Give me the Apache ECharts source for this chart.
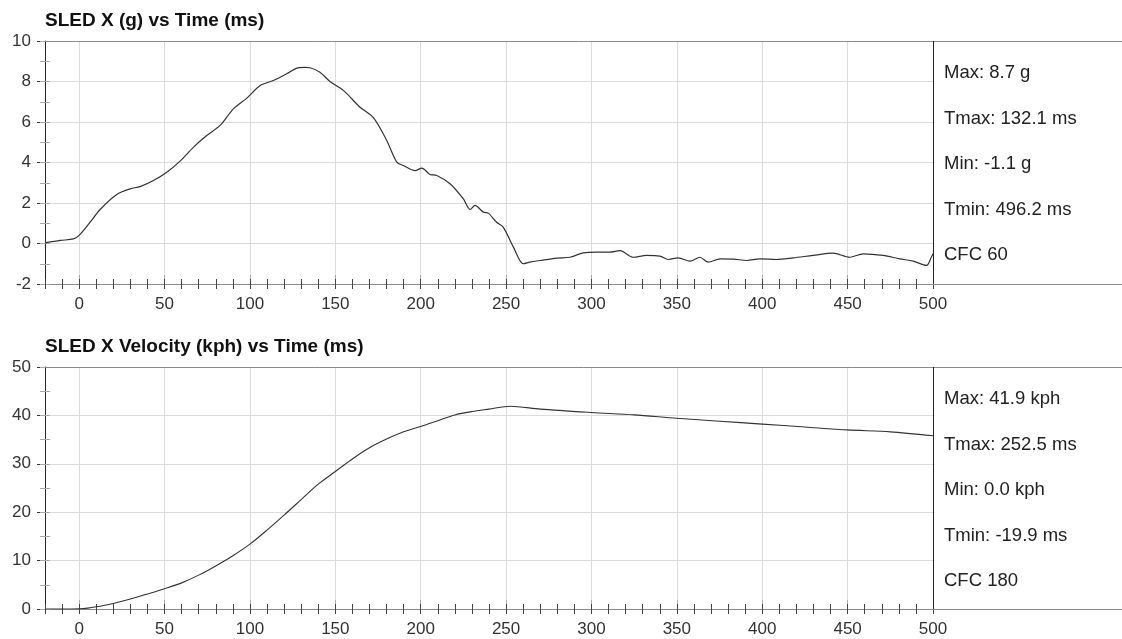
<!DOCTYPE html>
<html>
<head>
<meta charset="utf-8">
<script src="https://cdn.jsdelivr.net/npm/echarts@6/dist/echarts.min.js"></script>
<style>
html,body{margin:0;padding:0;background:#fff;}
#chart{width:1122px;height:639px;}
</style>
</head>
<body>
<div id="chart"></div>
<script>
// ---------- data ----------
const titleTop = 'SLED X (g) vs Time (ms)';
const titleBottom = 'SLED X Velocity (kph) vs Time (ms)';
const statsTop = ['Max: 8.7 g', 'Tmax: 132.1 ms', 'Min: -1.1 g', 'Tmin: 496.2 ms', 'CFC 60'];
const statsBottom = ['Max: 41.9 kph', 'Tmax: 252.5 ms', 'Min: 0.0 kph', 'Tmin: -19.9 ms', 'CFC 180'];
const timeTicks = [0, 50, 100, 150, 200, 250, 300, 350, 400, 450, 500];

// acceleration trace (time ms, g)
const accTime = [-20, -11, -3.3, 0, 6.4, 12.3, 22, 29.9, 35.7, 43.5, 51.3, 59.1, 67, 74.7, 82.5, 90.3, 98.2, 106, 113.7, 121.6, 127.4, 132.1, 135.2, 141, 146.9, 154.7, 164.5, 172.3, 180.1, 186, 189.9, 196.7, 200.6, 205.5, 209.4, 217.2, 225, 229, 231.8, 236.7, 239.6, 244.5, 248.4, 254.3, 260.1, 264, 269.9, 279.6, 287.4, 295.2, 303, 310.8, 316.7, 324.5, 332.3, 340.1, 345, 350.8, 357.7, 363.5, 368.4, 375.4, 383.2, 391, 398.6, 408.4, 418.1, 429.8, 441.6, 451.3, 459.1, 470.8, 480.6, 488.4, 496.2, 499, 500];
const accG = [0.03, 0.15, 0.23, 0.4, 1.05, 1.68, 2.42, 2.7, 2.81, 3.11, 3.52, 4.07, 4.76, 5.33, 5.83, 6.65, 7.18, 7.8, 8.05, 8.38, 8.66, 8.7, 8.68, 8.46, 8.0, 7.56, 6.73, 6.21, 5.09, 4.02, 3.85, 3.6, 3.72, 3.41, 3.36, 2.95, 2.2, 1.68, 1.88, 1.55, 1.5, 1.05, 0.8, -0.18, -1.0, -0.92, -0.84, -0.72, -0.68, -0.46, -0.43, -0.43, -0.35, -0.68, -0.59, -0.62, -0.79, -0.71, -0.87, -0.68, -0.92, -0.76, -0.77, -0.84, -0.76, -0.79, -0.71, -0.59, -0.48, -0.68, -0.51, -0.59, -0.76, -0.87, -1.08, -0.68, -0.51];

// velocity trace (time ms, kph)
const velTime = [-20, -10, 0, 5, 10, 20, 30, 40, 50, 60, 70, 80, 90, 100, 110, 120, 130, 140, 150, 160, 170, 180, 190, 200, 210, 220, 230, 240, 252.5, 270, 300, 325, 350, 375, 400, 425, 450, 475, 500];
const velKph = [0, 0, 0.05, 0.18, 0.45, 1.15, 2.05, 3.1, 4.2, 5.4, 7.0, 8.9, 11.0, 13.4, 16.3, 19.4, 22.6, 25.8, 28.4, 31.0, 33.3, 35.1, 36.6, 37.7, 38.9, 40.1, 40.8, 41.3, 41.9, 41.3, 40.6, 40.1, 39.4, 38.8, 38.2, 37.6, 37.0, 36.6, 35.8];

// ---------- layout ----------
const W = 1122;
const L = 45, R = 933;
const g0 = {top: 41, bottom: 284};
const g1 = {top: 367, bottom: 609};
const FONT = '"Liberation Sans", Arial, sans-serif';

function zip(a, b) { return a.map((v, i) => [v, b[i]]); }

function mainX(gi) {
  return {
    type: 'value', gridIndex: gi, position: 'bottom', min: -20, max: 500,
    axisLine: {show: true, onZero: false, lineStyle: {color: '#8a8a8a', width: 1}},
    axisTick: {show: true, inside: true, length: 9, customValues: timeTicks, lineStyle: {color: '#aaa'}},
    axisLabel: {show: true, customValues: timeTicks, margin: 12, fontSize: 17, color: '#333', fontFamily: FONT},
    splitLine: {show: true, lineStyle: {color: '#dcdcdc', width: 1}}
  };
}
function minorX(gi) {
  return {
    type: 'value', gridIndex: gi, position: 'bottom', min: -20, max: 500, interval: 10, offset: -5,
    axisLine: {show: false, onZero: false},
    axisTick: {show: true, length: 10, lineStyle: {color: '#444'}},
    axisLabel: {show: false},
    splitLine: {show: false}
  };
}
function mainY(gi, min, max, interval) {
  return {
    type: 'value', gridIndex: gi, position: 'left', min: min, max: max, interval: interval,
    axisLine: {show: true, onZero: false, lineStyle: {color: '#222', width: 1}},
    axisTick: {show: true, length: 8, lineStyle: {color: '#333'}},
    axisLabel: {show: true, margin: 14, fontSize: 17, color: '#333', fontFamily: FONT},
    splitLine: {show: true, lineStyle: {color: '#dcdcdc', width: 1}}
  };
}
function minorY(gi, min, max, interval) {
  return {
    type: 'value', gridIndex: gi, position: 'left', min: min, max: max, interval: interval, offset: -5,
    axisLine: {show: false, onZero: false},
    axisTick: {show: true, length: 10, lineStyle: {color: '#aaa'}},
    axisLabel: {show: false},
    splitLine: {show: false}
  };
}

const graphics = [];
function frame(g) {
  graphics.push({type: 'line', shape: {x1: L, y1: g.top + 0.5, x2: W, y2: g.top + 0.5}, style: {stroke: '#8a8a8a', lineWidth: 1}, z: 100});
  graphics.push({type: 'line', shape: {x1: R, y1: g.bottom + 0.5, x2: W, y2: g.bottom + 0.5}, style: {stroke: '#8a8a8a', lineWidth: 1}, z: 100});
  graphics.push({type: 'line', shape: {x1: R + 0.5, y1: g.top, x2: R + 0.5, y2: g.bottom}, style: {stroke: '#222', lineWidth: 1}, z: 100});
}
frame(g0); frame(g1);
function stats(list, y0) {
  list.forEach((s, i) => {
    graphics.push({
      type: 'text', x: 944, y: y0 + i * 45.5,
      style: {text: s, fill: '#222', font: '18.5px ' + FONT, textVerticalAlign: 'middle', textAlign: 'left'},
      z: 100
    });
  });
}
stats(statsTop, 73);
stats(statsBottom, 399);

const option = {
  animation: false,
  backgroundColor: '#fff',
  title: [
    {text: titleTop, left: 45, top: 11, padding: 0, textStyle: {fontSize: 19, fontWeight: 'bold', color: '#111', fontFamily: FONT}},
    {text: titleBottom, left: 45, top: 337, padding: 0, textStyle: {fontSize: 19, fontWeight: 'bold', color: '#111', fontFamily: FONT}}
  ],
  grid: [
    {left: L, right: W - R, top: g0.top, height: g0.bottom - g0.top, containLabel: false},
    {left: L, right: W - R, top: g1.top, height: g1.bottom - g1.top, containLabel: false}
  ],
  xAxis: [mainX(0), minorX(0), mainX(1), minorX(1)],
  yAxis: [mainY(0, -2, 10, 2), minorY(0, -2, 10, 1), mainY(1, 0, 50, 10), minorY(1, 0, 50, 5)],
  series: [
    {type: 'line', xAxisIndex: 0, yAxisIndex: 0, data: zip(accTime, accG), showSymbol: false, symbol: 'none',
     lineStyle: {color: '#333', width: 1.2}, smooth: 0.3, z: 5},
    {type: 'line', xAxisIndex: 2, yAxisIndex: 2, data: zip(velTime, velKph), showSymbol: false, symbol: 'none',
     lineStyle: {color: '#333', width: 1.1}, smooth: 0.3, z: 5}
  ],
  graphic: graphics
};

const chart = echarts.init(document.getElementById('chart'), null, {renderer: 'canvas'});
chart.setOption(option);
</script>
</body>
</html>
